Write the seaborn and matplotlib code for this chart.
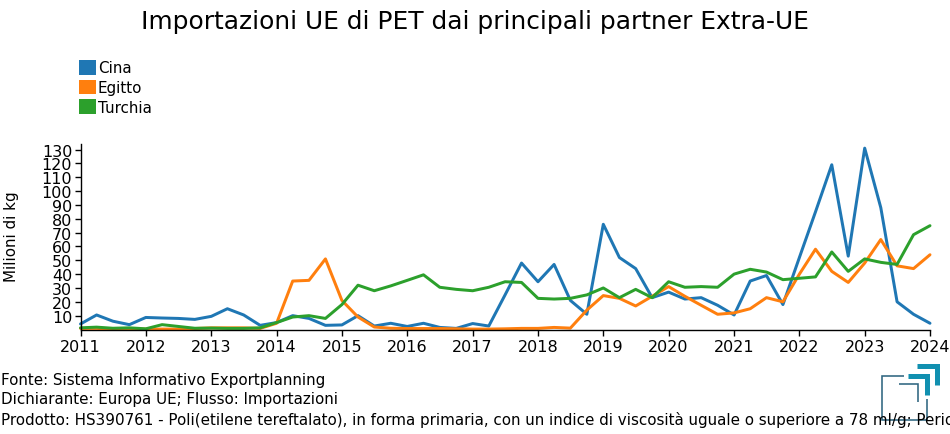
import matplotlib
matplotlib.use('Agg')
import matplotlib.pyplot as plt
import matplotlib.dates as mdates
from matplotlib.lines import Line2D
from matplotlib.patches import Patch
import pandas as pd
import seaborn as sns

# Quarterly values, millions of kg, 2011 Q1 to 2024 Q1
cina = [4, 10.5, 6, 3.5, 8.7, 8.3, 8, 7.3, 9.5, 15, 10.5, 3,
        5, 10, 8, 3, 3.3, 10, 2.5, 4.5, 2.2, 4.5, 1.5, 0.8,
        4.3, 2.5, 25, 48, 34.5, 47, 21, 11, 76, 52, 44, 23,
        27, 22, 23, 17.5, 10.5, 35, 39, 18, 52, 85, 119, 53,
        131, 88, 20, 11, 4.5]
egitto = [0.8, 0.8, 0.3, 0.3, 0.3, 0.3, 0.3, 0.7, 1.2, 1.2, 1.2, 0.8,
          4.5, 35, 35.5, 51, 21, 9, 1.8, 0.9, 0.7, 0.7, 0.7, 0.5,
          0.3, 0.3, 0.5, 0.8, 0.8, 1.5, 1, 14, 24.5, 22.5, 17, 24,
          31, 24, 17.5, 11, 12, 15, 23, 20, 40, 58, 42, 34,
          48, 65, 46, 44, 54]
turchia = [1.2, 1.7, 0.9, 1.2, 0.5, 3.5, 2.2, 0.9, 1, 0.8, 0.8, 1.2,
           5, 9, 10, 8, 18, 32, 28, 31.5, 35.5, 39.5, 30.5, 29,
           28, 30.5, 34.5, 34, 22.5, 22, 22.5, 25, 30, 23, 29, 23,
           34.5, 30.5, 31, 30.5, 40, 43.5, 41.5, 36, 37, 38, 56, 42,
           51, 48.5, 47, 68.5, 75]
periods = pd.date_range('2011-01-01', '2024-01-01', freq='QS')
y_ticks = [10, 20, 30, 40, 50, 60, 70, 80, 90, 100, 110, 120, 130]

colors = {'Cina': '#1f77b4', 'Egitto': '#ff7f0e', 'Turchia': '#2ca02c'}

df = pd.DataFrame({'periodo': periods, 'Cina': cina, 'Egitto': egitto, 'Turchia': turchia})
df = df.melt(id_vars='periodo', var_name='paese', value_name='valore')

W, H = 950, 435


def fx(px):
    return px / W


def fy(py):
    return 1 - py / H


sns.set_style('ticks')
plt.rcParams['font.family'] = ['DejaVu Sans']
plt.rcParams['text.color'] = 'black'

fig = plt.figure(figsize=(9.5, 4.35), dpi=100)
ax = fig.add_axes([fx(80.5), fy(330.5), fx(930) - fx(80.5), fy(145) - fy(330.5)])

sns.lineplot(data=df, x='periodo', y='valore', hue='paese', palette=colors,
             linewidth=2.15, legend=False, ax=ax, clip_on=False)

ax.set_xlim(pd.Timestamp('2011-01-01'), pd.Timestamp('2024-01-01'))
ax.set_ylim(0, 134)
ax.xaxis.set_major_locator(mdates.YearLocator())
ax.xaxis.set_major_formatter(mdates.DateFormatter('%Y'))
ax.set_yticks(y_ticks)
ax.tick_params(axis='both', labelsize=11.5, length=4.5, width=1, colors='black')
ax.tick_params(axis='x', pad=2.5)
ax.tick_params(axis='y', pad=1.5)
ax.set_xlabel('')
ax.set_ylabel('')
sns.despine(ax=ax)
for side in ['left', 'bottom']:
    ax.spines[side].set_linewidth(1)
    ax.spines[side].set_color('black')

fig.text(fx(11.5), fy(237), 'Milioni di kg', rotation=90, ha='center', va='center', fontsize=10.9)
fig.text(fx(474.5), fy(22), 'Importazioni UE di PET dai principali partner Extra-UE',
         ha='center', va='center', fontsize=17.95)

handles = [Patch(facecolor=c, edgecolor='none', label=n) for n, c in colors.items()]
fig.legend(handles=handles, loc='upper left', bbox_to_anchor=(fx(79), fy(61)),
           frameon=False, fontsize=10.9, handlelength=1.1, handleheight=1.1,
           handletextpad=0.15, labelspacing=0.28, borderpad=0, borderaxespad=0)

footer = [
    'Fonte: Sistema Informativo Exportplanning',
    'Dichiarante: Europa UE; Flusso: Importazioni',
    'Prodotto: HS390761 - Poli(etilene tereftalato), in forma primaria, con un indice di '
    'viscosità uguale o superiore a 78 ml/g; Periodo',
]
for py, line in zip([380, 400, 420], footer):
    fig.text(fx(1), fy(py), line, ha='left', va='center', fontsize=10.87)

# logo, drawn in pixel coordinates
logo = [
    ([917.3, 937.3, 937.3], [366.7, 366.7, 385.7], '#1190b0', 5),
    ([907.7, 927.3, 927.3], [376.7, 376.7, 395.7], '#1190b0', 5),
    ([904, 882.3, 882.3, 926.7, 926.7], [377.3, 377.3, 420.7, 420.7, 400], '#2f6680', 1.6),
    ([899.3, 918.3, 918.3], [385, 385, 403.3], '#2f6680', 1.6),
]
for xs, ys, col, lw in logo:
    fig.add_artist(Line2D([fx(v) for v in xs], [fy(v) for v in ys], color=col,
                          linewidth=lw * 0.72, solid_joinstyle='miter', solid_capstyle='butt'))

fig.savefig('out.png', dpi=100)
